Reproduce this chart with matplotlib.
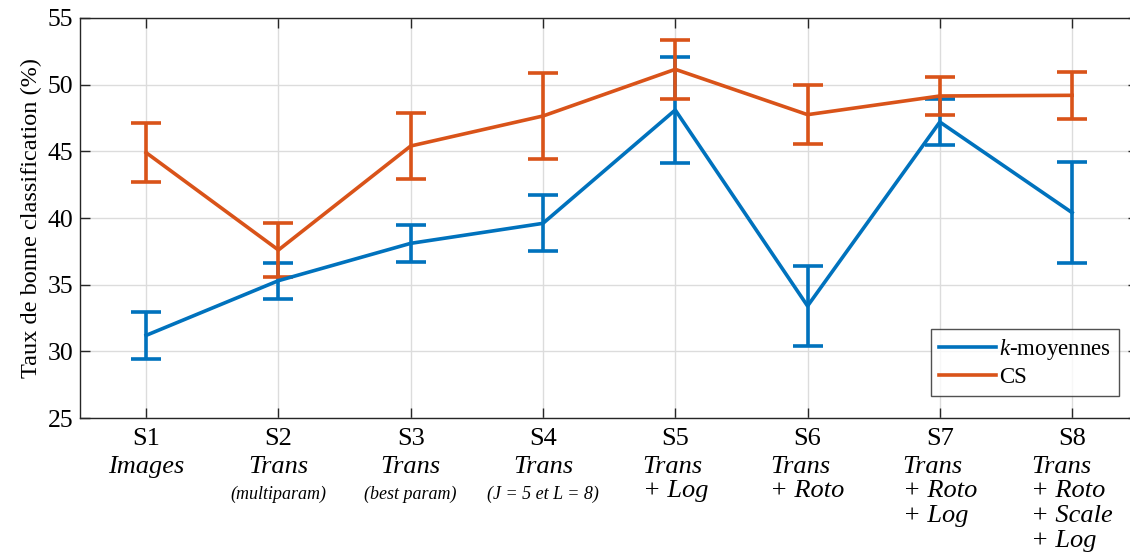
import numpy as np
import matplotlib
matplotlib.use('Agg')
import matplotlib.pyplot as plt
from matplotlib.lines import Line2D

plt.rcParams['font.family'] = ['Liberation Serif', 'DejaVu Serif']
plt.rcParams['mathtext.fontset'] = 'custom'
plt.rcParams['mathtext.rm'] = 'Liberation Serif'
plt.rcParams['mathtext.it'] = 'Liberation Serif:italic'

# Data
steps = ['S1', 'S2', 'S3', 'S4', 'S5', 'S6', 'S7', 'S8']
step_desc = ['Images', 'Trans', 'Trans', 'Trans',
             'Trans\n+ Log', 'Trans\n+ Roto', 'Trans\n+ Roto\n+ Log',
             'Trans\n+ Roto\n+ Scale\n+ Log']
step_note = ['', '(multiparam)', '(best param)', '(J = 5 et L = 8)', '', '', '', '']

kmeans_mean = [31.2, 35.3, 38.1, 39.6, 48.1, 33.4, 47.2, 40.4]
kmeans_err = [1.75, 1.35, 1.4, 2.1, 3.95, 3.0, 1.76, 3.78]
cs_mean = [44.9, 37.6, 45.4, 47.65, 51.15, 47.75, 49.15, 49.2]
cs_err = [2.2, 2.0, 2.45, 3.25, 2.2, 2.22, 1.4, 1.78]

blue = '#0072BD'
orange = '#D95319'

fig = plt.figure(figsize=(11.3, 5.55), dpi=100)
ax = fig.add_axes([0.0708, 0.2468, 0.9365, 0.7208])

x = np.arange(1, len(steps) + 1)
ax.errorbar(x, kmeans_mean, yerr=kmeans_err, color=blue, lw=2.6,
            elinewidth=2.6, capsize=11, capthick=2.6, zorder=3)
ax.errorbar(x, cs_mean, yerr=cs_err, color=orange, lw=2.6,
            elinewidth=2.6, capsize=11, capthick=2.6, zorder=3)

ax.set_xlim(0.5, 8.5)
ax.set_ylim(25, 55)
ax.set_yticks(np.arange(25, 56, 5))
ax.set_xticks(x)
ax.set_xticklabels([''] * len(x))
ax.grid(True, color='#dcdcdc', lw=1)
ax.set_axisbelow(True)
ax.tick_params(direction='in', length=7, width=1, top=True, right=True,
               labelsize=18.5, colors='#262626', labelcolor='black', pad=5)
for s in ax.spines.values():
    s.set_color('#262626')
    s.set_linewidth(1)

# multi-line x tick labels
for i, xi in enumerate(x):
    ax.annotate(steps[i], xy=(xi, 0), xycoords=('data', 'axes fraction'),
                xytext=(0, -7), textcoords='offset points',
                ha='center', va='top', fontsize=19)
    if i < 4:
        ax.annotate(step_desc[i], xy=(xi, 0), xycoords=('data', 'axes fraction'),
                    xytext=(0, -27), textcoords='offset points',
                    ha='center', va='top', fontsize=19, style='italic')
        if step_note[i]:
            ax.annotate(step_note[i], xy=(xi, 0), xycoords=('data', 'axes fraction'),
                        xytext=(0, -49), textcoords='offset points',
                        ha='center', va='top', fontsize=13, style='italic')
    else:
        ax.annotate(step_desc[i], xy=(xi, 0), xycoords=('data', 'axes fraction'),
                    xytext=(0, -27), textcoords='offset points',
                    ha='center', va='top', fontsize=19, style='italic',
                    multialignment='left', linespacing=1.17)

ax.set_ylabel('Taux de bonne classification (%)', fontsize=17.5, labelpad=4)

handles = [Line2D([], [], color=blue, lw=2.6), Line2D([], [], color=orange, lw=2.6)]
leg = ax.legend(handles, [r'$k$-moyennes', 'CS'], loc='lower right',
                bbox_to_anchor=(0.982, 0.055), fontsize=16.5,
                frameon=True, fancybox=False, edgecolor='#262626',
                handlelength=2.5, handletextpad=0.15, borderpad=0.35, labelspacing=0.2,
                borderaxespad=0)
leg.get_frame().set_linewidth(1)

fig.savefig('out.png', dpi=100)
